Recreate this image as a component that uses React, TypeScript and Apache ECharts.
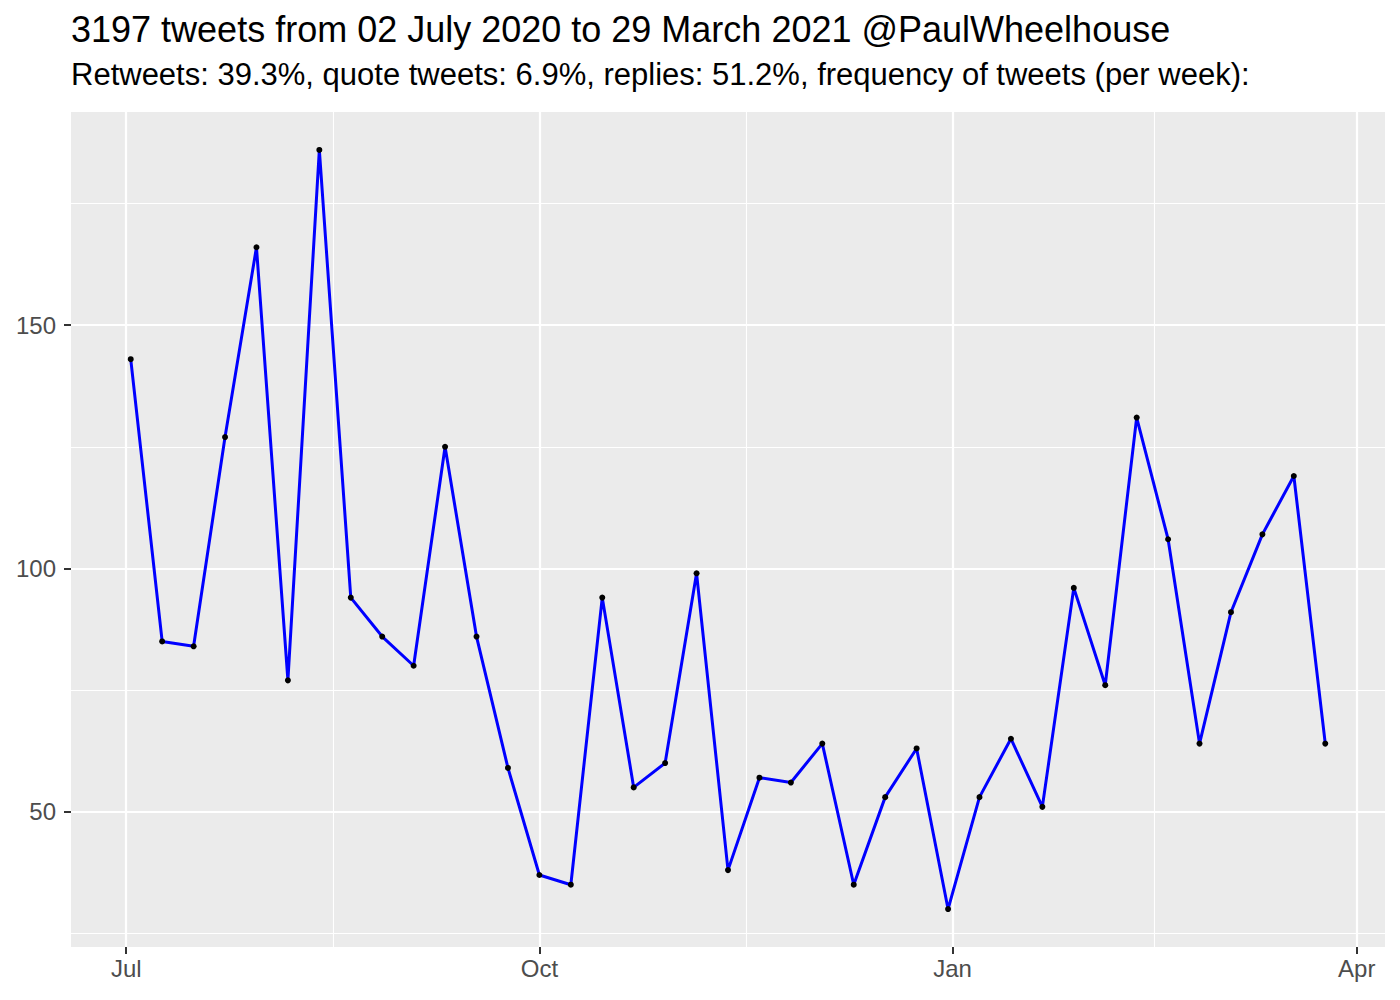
import React, { useEffect, useRef } from "react";
import * as echarts from "echarts";

const TITLE = "3197 tweets from 02 July 2020 to 29 March 2021 @PaulWheelhouse";
const SUBTITLE =
  "Retweets: 39.3%, quote tweets: 6.9%, replies: 51.2%, frequency of tweets (per week):";

const weekDates = [
  "2020-07-02", "2020-07-09", "2020-07-16", "2020-07-23", "2020-07-30",
  "2020-08-06", "2020-08-13", "2020-08-20", "2020-08-27", "2020-09-03",
  "2020-09-10", "2020-09-17", "2020-09-24", "2020-10-01", "2020-10-08",
  "2020-10-15", "2020-10-22", "2020-10-29", "2020-11-05", "2020-11-12",
  "2020-11-19", "2020-11-26", "2020-12-03", "2020-12-10", "2020-12-17",
  "2020-12-24", "2020-12-31", "2021-01-07", "2021-01-14", "2021-01-21",
  "2021-01-28", "2021-02-04", "2021-02-11", "2021-02-18", "2021-02-25",
  "2021-03-04", "2021-03-11", "2021-03-18", "2021-03-25",
];

const weeklyTweets = [
  143, 85, 84, 127, 166, 77, 186, 94, 86, 80,
  125, 86, 59, 37, 35, 94, 55, 60, 99, 38,
  57, 56, 64, 35, 53, 63, 30, 53, 65, 51,
  96, 76, 131, 106, 64, 91, 107, 119, 64,
];

const xMajorDates = ["2020-07-01", "2020-10-01", "2021-01-01", "2021-04-01"];
const xMinorDates = ["2020-08-16", "2020-11-16", "2021-02-15"];
const yMajor = [50, 100, 150];
const yMinor = [25, 75, 125, 175];
const MONTHS = ["Jan", "Feb", "Mar", "Apr", "May", "Jun", "Jul", "Aug", "Sep", "Oct", "Nov", "Dec"];

const ts = (d: string) => Date.parse(d + "T00:00:00Z");

export default function App() {
  const ref = useRef<HTMLDivElement>(null);
  useEffect(() => {
    if (!ref.current) return;
    const chart = echarts.init(ref.current, undefined, { renderer: "svg" });

    const xs = weekDates.map(ts);
    const xLo = Math.min(...xs);
    const xHi = Math.max(...xs);
    const xPad = (xHi - xLo) * 0.05;
    const yLo = Math.min(...weeklyTweets);
    const yHi = Math.max(...weeklyTweets);
    const yPad = (yHi - yLo) * 0.05;

    const data = xs.map((x, i) => [x, weeklyTweets[i]]);
    const font = "'Liberation Sans', Arial, Helvetica, sans-serif";

    const gridLines = [
      ...xMinorDates.map((d) => ({ xAxis: ts(d), lineStyle: { width: 1.1 } })),
      ...yMinor.map((v) => ({ yAxis: v, lineStyle: { width: 1.1 } })),
      ...xMajorDates.map((d) => ({ xAxis: ts(d), lineStyle: { width: 2.2 } })),
      ...yMajor.map((v) => ({ yAxis: v, lineStyle: { width: 2.2 } })),
    ];

    chart.setOption({
      animation: false,
      title: [
        {
          text: TITLE,
          left: 71,
          top: 11,
          padding: 0,
          textStyle: { fontSize: 36, fontWeight: "normal", color: "#000", fontFamily: font },
        },
        {
          text: SUBTITLE,
          left: 71,
          top: 59,
          padding: 0,
          textStyle: { fontSize: 31, fontWeight: "normal", color: "#000", fontFamily: font },
        },
      ],
      grid: {
        left: 71,
        right: 15,
        top: 112,
        bottom: 53,
        show: true,
        backgroundColor: "#EBEBEB",
        borderWidth: 0,
        containLabel: false,
      },
      xAxis: {
        type: "value",
        min: xLo - xPad,
        max: xHi + xPad,
        splitLine: { show: false },
        axisLine: { show: false },
        axisTick: {
          show: true,
          customValues: xMajorDates.map(ts),
          length: 7,
          lineStyle: { color: "#333333", width: 2 },
        },
        axisLabel: {
          customValues: xMajorDates.map(ts),
          formatter: (v: number) => MONTHS[new Date(v).getUTCMonth()],
          color: "#4D4D4D",
          fontSize: 24,
          fontFamily: font,
          margin: 9,
        },
      },
      yAxis: {
        type: "value",
        min: yLo - yPad,
        max: yHi + yPad,
        splitLine: { show: false },
        axisLine: { show: false },
        axisTick: {
          show: true,
          customValues: yMajor,
          length: 7,
          lineStyle: { color: "#333333", width: 2 },
        },
        axisLabel: {
          customValues: yMajor,
          color: "#4D4D4D",
          fontSize: 24,
          fontFamily: font,
          margin: 15,
        },
      },
      series: [
        {
          type: "line",
          data,
          z: 1,
          symbol: "none",
          lineStyle: { opacity: 0 },
          silent: true,
          markLine: {
            z: 1,
            silent: true,
            symbol: ["none", "none"],
            label: { show: false },
            lineStyle: { color: "#FFFFFF", type: "solid" },
            emphasis: { disabled: true },
            data: gridLines,
          },
        },
        {
          type: "line",
          data,
          z: 5,
          symbol: "circle",
          symbolSize: 6,
          showSymbol: true,
          itemStyle: { color: "#000000", borderWidth: 0 },
          lineStyle: { color: "#0000FF", width: 3 },
        },
      ],
    });
    return () => chart.dispose();
  }, []);
  return (
    <div
      ref={ref}
      style={{ position: "fixed", left: 0, top: 0, width: 1400, height: 1000, background: "#FFFFFF" }}
    />
  );
}
